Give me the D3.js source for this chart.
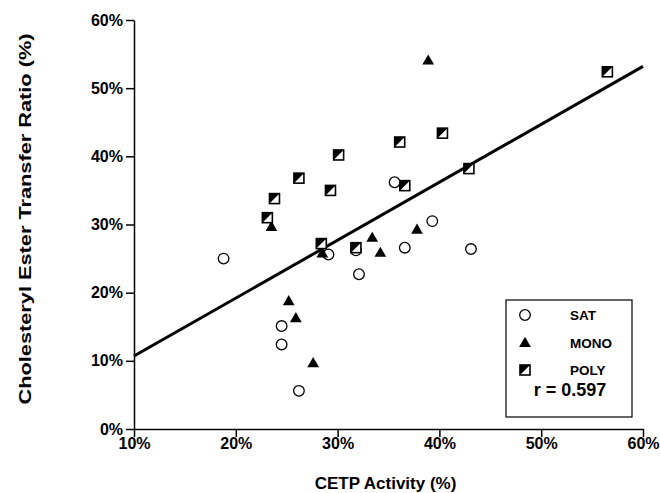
<!DOCTYPE html>
<meta charset="utf-8">
<style>
  body { margin: 0; background: #fff; }
  text { font-family: "Liberation Sans", Arial, sans-serif; font-weight: bold; fill: #000; }
  .axis path, .axis line { stroke: #000; stroke-width: 1.5px; }
  .axis text { font-size: 16px; }
  .fit { fill: none; stroke: #000; stroke-width: 3px; }
</style>
<body>
<script src="https://cdn.jsdelivr.net/npm/d3@7"></script>
<script>
  // values, in percent
  var satX  = [18.8, 24.5, 24.5, 26.2, 29.1, 31.8, 32.1, 35.6, 36.6, 39.3, 43.1];
  var satY  = [25.0, 15.1, 12.4,  5.6, 25.6, 26.2, 22.7, 36.2, 26.6, 30.5, 26.4];
  var monoX = [23.5, 25.2, 25.9, 27.6, 28.5, 33.4, 34.2, 37.8, 38.9];
  var monoY = [29.7, 18.8, 16.3,  9.7, 25.8, 28.1, 25.9, 29.3, 54.1];
  var polyX = [23.1, 23.8, 26.2, 28.4, 29.3, 30.1, 31.8, 36.1, 36.6, 40.3, 42.9, 56.5];
  var polyY = [31.0, 33.8, 36.8, 27.2, 35.0, 40.2, 26.6, 42.1, 35.7, 43.4, 38.2, 52.4];
  var xTicks = [10, 20, 30, 40, 50, 60];
  var yTicks = [0, 10, 20, 30, 40, 50, 60];
  var fitSlope = 0.85, fitIntercept = 2.2, fitRange = [10, 60];
  var legendLabels = ["SAT", "MONO", "POLY"];
  var rText = "r = 0.597";

  var W = 660, H = 493;
  var margin = {top: 20, right: 17, bottom: 64, left: 134};

  var svg = d3.select("body").append("svg")
    .attr("width", W).attr("height", H);

  var x = d3.scaleLinear().domain([10, 60]).range([margin.left, W - margin.right]);
  var y = d3.scaleLinear().domain([0, 60]).range([H - margin.bottom, margin.top]);

  // axes
  svg.append("g").attr("class", "axis")
    .attr("transform", "translate(0," + y(0) + ")")
    .call(d3.axisBottom(x).tickValues(xTicks).tickSize(8).tickSizeOuter(0)
      .tickFormat(function (d) { return d + "%"; }))
    .selectAll("text").attr("y", 9);

  svg.append("g").attr("class", "axis")
    .attr("transform", "translate(" + x(10) + ",0)")
    .call(d3.axisLeft(y).tickValues(yTicks).tickSize(8).tickSizeOuter(0)
      .tickFormat(function (d) { return d + "%"; }))
    .selectAll("text").attr("x", -11);

  svg.append("text")
    .attr("x", (x(10) + x(60)) / 2 - 3).attr("y", 489)
    .attr("text-anchor", "middle").style("font-size", "17px")
    .text("CETP Activity (%)");

  // the scanned title is stretched along its length
  svg.append("text")
    .attr("transform", "translate(31,219) rotate(-90)")
    .attr("text-anchor", "middle").style("font-size", "17px")
    .attr("textLength", 371).attr("lengthAdjust", "spacingAndGlyphs")
    .text("Cholesteryl Ester Transfer Ratio (%)");

  // regression line
  svg.append("path").attr("class", "fit")
    .attr("d", d3.line()
      .x(function (d) { return x(d); })
      .y(function (d) { return y(fitSlope * d + fitIntercept); })(fitRange));

  // marker drawers
  var tri = d3.symbol().type(d3.symbolTriangle).size(60);

  function drawCircle(g, cx, cy) {
    g.append("circle").attr("cx", cx).attr("cy", cy).attr("r", 5.3)
      .attr("fill", "#fff").attr("stroke", "#000").attr("stroke-width", 1.3);
  }
  function drawTri(g, cx, cy) {
    g.append("path").attr("d", tri)
      .attr("transform", "translate(" + cx + "," + (cy + 1) + ")")
      .attr("fill", "#000");
  }
  function drawSquare(g, cx, cy) {
    var s = 10, h = s / 2;
    g.append("rect").attr("x", cx - h).attr("y", cy - h)
      .attr("width", s).attr("height", s)
      .attr("fill", "#fff").attr("stroke", "#000").attr("stroke-width", 1.6);
    g.append("path")
      .attr("d", "M" + (cx - h) + "," + (cy - h) + "L" + (cx + h) + "," + (cy - h) +
        "L" + (cx - h) + "," + (cy + h) + "Z")
      .attr("fill", "#000");
  }

  var pts = svg.append("g");
  satX.forEach(function (v, i) { drawCircle(pts, x(v), y(satY[i])); });
  monoX.forEach(function (v, i) { drawTri(pts, x(v), y(monoY[i])); });
  polyX.forEach(function (v, i) { drawSquare(pts, x(v), y(polyY[i])); });

  // legend box
  var lg = svg.append("g");
  lg.append("rect").attr("x", 506).attr("y", 300).attr("width", 126).attr("height", 117)
    .attr("fill", "#fff").attr("stroke", "#000").attr("stroke-width", 1.2);
  var drawers = [drawCircle, drawTri, drawSquare];
  legendLabels.forEach(function (lab, i) {
    var cy = 315 + i * 27.5;
    drawers[i](lg, 525, cy);
    lg.append("text").attr("x", 570).attr("y", cy + 5)
      .style("font-size", "13.5px").text(lab);
  });
  lg.append("text").attr("x", 570).attr("y", 396).attr("text-anchor", "middle")
    .style("font-size", "18px").text(rText);
</script>
</body>
